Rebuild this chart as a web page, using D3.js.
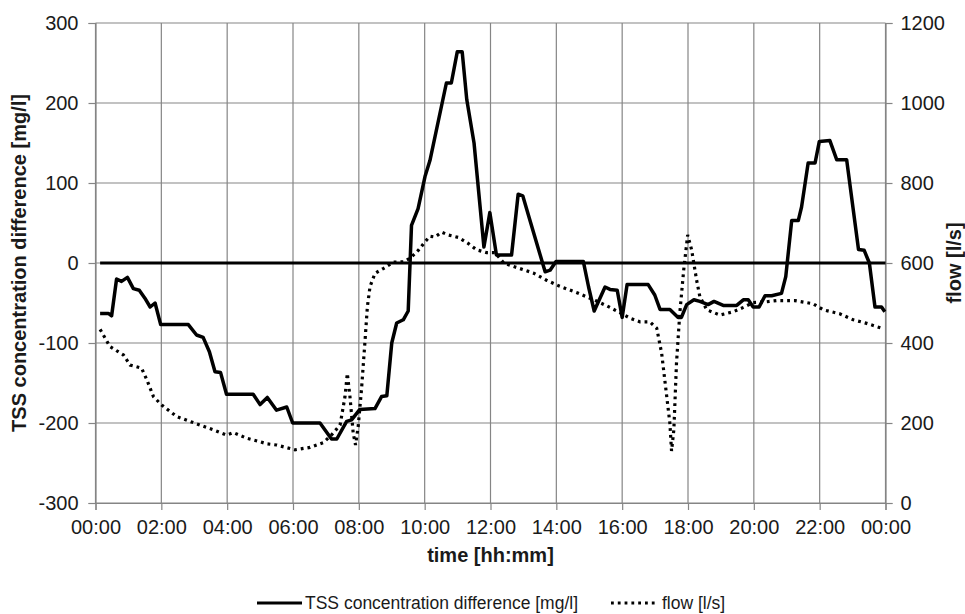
<!DOCTYPE html>
<html>
<head>
<meta charset="utf-8">
<script src="https://cdn.jsdelivr.net/npm/d3@7"></script>
<style>
  html, body { margin: 0; padding: 0; background: #fff; }
  svg { display: block; font-family: "Liberation Sans", Arial, sans-serif; }
</style>
</head>
<body>
<svg id="chart" width="965" height="614"></svg>
<script>
// ---- Data (time in hours of the day) ----
const xTickHours = [0, 2, 4, 6, 8, 10, 12, 14, 16, 18, 20, 22, 24];
const xTickLabels = ["00:00","02:00","04:00","06:00","08:00","10:00","12:00","14:00","16:00","18:00","20:00","22:00","00:00"];
const leftTicks = [-300, -200, -100, 0, 100, 200, 300];
const rightTicks = [0, 200, 400, 600, 800, 1000, 1200];

const tssTime = [0.14,0.39,0.49,0.64,0.79,0.97,1.15,1.33,1.50,1.66,1.81,1.98,2.82,3.07,3.27,3.46,3.63,3.80,3.98,4.79,5.00,5.22,5.50,5.81,5.99,6.82,7.17,7.33,7.63,7.78,8.03,8.49,8.69,8.85,9.00,9.15,9.35,9.50,9.60,9.80,10.01,10.16,10.66,10.81,10.99,11.14,11.28,11.50,11.80,11.98,12.18,12.64,12.84,12.98,13.18,13.66,13.81,13.99,14.82,14.98,15.15,15.48,15.63,15.85,16.00,16.15,16.79,16.99,17.15,17.45,17.70,17.80,17.96,18.18,18.36,18.61,18.79,19.07,19.48,19.68,19.83,19.98,20.16,20.34,20.54,20.84,20.97,21.15,21.35,21.45,21.65,21.86,21.99,22.31,22.52,22.82,23.18,23.35,23.51,23.68,23.88,23.98];
const tssValue = [-63,-63,-66,-20,-23,-18,-32,-34,-44,-55,-50,-77,-77,-90,-93,-111,-136,-137,-164,-164,-177,-168,-184,-180,-200,-200,-220,-220,-198,-196,-183,-182,-167,-166,-100,-75,-71,-60,47,68,108,128,225,225,264,264,204,150,20,63,10,10,86,84,56,-11,-9,2,2,-30,-60,-30,-33,-34,-68,-27,-27,-40,-58,-58,-68,-68,-52,-46,-48,-52,-48,-53,-53,-46,-46,-55,-55,-41,-41,-38,-17,53,53,70,125,125,152,153,129,129,17,16,0,-55,-55,-61];

const flowTime = [0.14,0.44,0.85,1.05,1.40,1.56,1.76,2.01,2.47,3.07,3.58,3.98,4.19,4.59,5.00,5.20,5.50,6.06,6.52,6.92,7.17,7.43,7.58,7.65,7.73,7.83,7.90,7.98,8.08,8.19,8.26,8.34,8.49,8.74,9.05,9.35,9.56,9.81,10.01,10.16,10.31,10.52,10.72,11.02,11.32,11.58,11.88,12.14,12.40,12.75,13.30,13.70,14.10,14.65,15.22,15.53,15.93,16.24,16.54,16.84,17.05,17.20,17.33,17.45,17.50,17.57,17.65,17.75,17.87,17.99,18.11,18.26,18.36,18.57,18.97,19.37,19.68,19.98,20.39,20.69,21.25,21.80,22.11,22.61,23.02,23.43,23.88];
const flowValue = [434,391,370,345,337,308,266,245,216,198,183,170,176,162,153,148,145,133,139,151,170,195,266,324,266,174,145,191,283,408,491,541,574,586,602,603,612,632,653,667,665,677,670,664,649,633,626,626,600,590,575,557,542,525,505,493,476,462,453,453,437,374,283,199,130,183,349,474,583,670,633,558,516,483,470,478,489,501,503,506,506,498,483,473,458,449,437];

// zero reference line (TSS = 0)
const zeroTime = [0.14, 24];
const zeroValue = [0, 0];

const seriesNames = ["TSS concentration difference [mg/l]", "flow [l/s]"];

// ---- Layout ----
const svg = d3.select("#chart");
const pLeft = 95.5, pRight = 885.5, pTop = 23, pBottom = 503;
const gridColor = "#858585";
const textColor = "#1a1a1a";

const x = d3.scaleLinear().domain([0, 24]).range([pLeft, pRight]);
const yL = d3.scaleLinear().domain([-300, 300]).range([pBottom, pTop]);
const yR = d3.scaleLinear().domain([0, 1200]).range([pBottom, pTop]);

// gridlines
const g = svg.append("g");
g.selectAll("line.h").data(leftTicks).join("line")
  .attr("x1", pLeft).attr("x2", pRight)
  .attr("y1", d => yL(d)).attr("y2", d => yL(d))
  .attr("stroke", gridColor).attr("stroke-width", 1.2);
g.selectAll("line.v").data(xTickHours).join("line")
  .attr("x1", d => x(d)).attr("x2", d => x(d))
  .attr("y1", pTop).attr("y2", pBottom)
  .attr("stroke", gridColor).attr("stroke-width", 1.2);

// axes
const plain = d => String(d);
const axL = svg.append("g").attr("transform", `translate(${pLeft},0)`)
  .call(d3.axisLeft(yL).tickValues(leftTicks).tickSize(7).tickPadding(10).tickFormat(plain));
const axR = svg.append("g").attr("transform", `translate(${pRight},0)`)
  .call(d3.axisRight(yR).tickValues(rightTicks).tickSize(7).tickPadding(8).tickFormat(plain));
const axB = svg.append("g").attr("transform", `translate(0,${pBottom})`)
  .call(d3.axisBottom(x).tickValues(xTickHours).tickSize(7).tickPadding(10)
    .tickFormat((d, i) => xTickLabels[i]));

[axL, axR, axB].forEach(a => {
  a.select(".domain").attr("stroke", gridColor).attr("stroke-width", 1.2);
  a.selectAll(".tick line").attr("stroke", gridColor).attr("stroke-width", 1.2);
  a.selectAll(".tick text").attr("fill", textColor)
    .style("font-size", "20px").style("font-family", '"Liberation Sans", Arial, sans-serif');
});

// axis titles
svg.append("text")
  .attr("transform", `translate(26,${(pTop + pBottom) / 2}) rotate(-90)`)
  .attr("text-anchor", "middle").attr("fill", textColor)
  .style("font-size", "20px").style("font-weight", "bold")
  .text(seriesNames[0]);
svg.append("text")
  .attr("transform", `translate(961,${(pTop + pBottom) / 2}) rotate(-90)`)
  .attr("text-anchor", "middle").attr("fill", textColor)
  .style("font-size", "20px").style("font-weight", "bold")
  .text(seriesNames[1]);
svg.append("text")
  .attr("x", (pLeft + pRight) / 2).attr("y", 562)
  .attr("text-anchor", "middle").attr("fill", textColor)
  .style("font-size", "20px").style("font-weight", "bold")
  .text("time [hh:mm]");

// lines
const lineL = d3.line().x(d => x(d[0])).y(d => yL(d[1]));
const lineR = d3.line().x(d => x(d[0])).y(d => yR(d[1]));

svg.append("path")
  .datum(zeroTime.map((t, i) => [t, zeroValue[i]]))
  .attr("d", lineL).attr("fill", "none")
  .attr("stroke", "#000").attr("stroke-width", 3);

svg.append("path")
  .datum(flowTime.map((t, i) => [t, flowValue[i]]))
  .attr("d", lineR).attr("fill", "none")
  .attr("stroke", "#000").attr("stroke-width", 3.2)
  .attr("stroke-dasharray", "2.8,4");

svg.append("path")
  .datum(tssTime.map((t, i) => [t, tssValue[i]]))
  .attr("d", lineL).attr("fill", "none")
  .attr("stroke", "#000").attr("stroke-width", 3.5)
  .attr("stroke-linejoin", "round");

// legend
const lg = svg.append("g");
lg.append("line").attr("x1", 257).attr("x2", 302).attr("y1", 603).attr("y2", 603)
  .attr("stroke", "#000").attr("stroke-width", 3);
lg.append("text").attr("x", 305).attr("y", 609).attr("fill", textColor)
  .style("font-size", "17.5px").text(seriesNames[0]);
lg.append("line").attr("x1", 611).attr("x2", 658).attr("y1", 603).attr("y2", 603)
  .attr("stroke", "#000").attr("stroke-width", 3).attr("stroke-dasharray", "2.8,4");
lg.append("text").attr("x", 662).attr("y", 609).attr("fill", textColor)
  .style("font-size", "17.5px").text(seriesNames[1]);
</script>
</body>
</html>
